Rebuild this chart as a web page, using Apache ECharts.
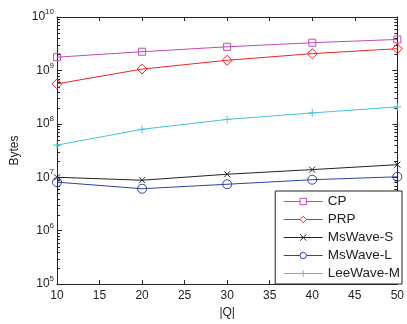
<!DOCTYPE html>
<html><head><meta charset="utf-8">
<script src="https://cdn.jsdelivr.net/npm/echarts@6/dist/echarts.min.js"></script>
<style>html,body{margin:0;padding:0;background:#fff}#c{width:407px;height:324px}</style>
</head><body><div id="c"></div>
<script>
const categories = [10, 20, 30, 40, 50];
const cpValues = [1.77e9, 2.24e9, 2.77e9, 3.3e9, 3.8e9];
const prpValues = [5.6e8, 1.06e9, 1.55e9, 2.06e9, 2.55e9];
const msWaveSValues = [1.0e7, 8.8e6, 1.14e7, 1.39e7, 1.72e7];
const msWaveLValues = [8.1e6, 6.1e6, 7.4e6, 9.0e6, 1.02e7];
const leeWaveMValues = [4.0e7, 7.9e7, 1.21e8, 1.6e8, 2.08e8];
const xTicks = [10, 15, 20, 25, 30, 35, 40, 45, 50];
const yDecades = [1e5, 1e6, 1e7, 1e8, 1e9];
const minorMultipliers = [2, 3, 4, 5, 6, 7, 8, 9];

const FONT = 'Liberation Sans';
const xSym = 'path://M0,0L10,10M10,0L0,10';
const plusSym = 'path://M5,0L5,10M0,5L10,5';

function pairs(vals){ return categories.map((c,i)=>[c, vals[i]]); }

function mkSeries(name, vals, color, symbol, size){
  return {
    name, type:'line', data: pairs(vals), symbol, symbolSize: size,
    lineStyle:{color, width:1},
    itemStyle:{color:'none', borderColor: color, borderWidth: 1},
    emphasis:{disabled:true}, z: 3
  };
}

const chart = echarts.init(document.getElementById('c'), null, {renderer:'canvas'});
const axisLine = {show:true, lineStyle:{color:'#222', width:1}};
chart.setOption({
  animation:false,
  textStyle:{fontFamily:FONT},
  grid:{left:57, right:8, top:17, bottom:38, containLabel:false},
  xAxis:[{
    type:'value', min:10, max:50, interval:5,
    axisLine, axisTick:{inside:true, length:4, lineStyle:{color:'#222'}},
    splitLine:{show:false},
    axisLabel:{color:'#222', fontSize:12, fontFamily:FONT, margin:6,
      formatter:v=> xTicks.includes(v) ? String(v) : ''},
    name:'|Q|', nameLocation:'middle', nameGap:22,
    nameTextStyle:{color:'#222', fontSize:12, fontFamily:FONT}
  },{
    type:'value', min:10, max:50, interval:5, position:'top',
    axisLine, axisTick:{inside:true, length:4, lineStyle:{color:'#222'}},
    axisLabel:{show:false}, splitLine:{show:false}
  }],
  yAxis:[{
    type:'log', logBase:10, min:1e5, max:1e10,
    axisLine, axisTick:{inside:true, length:5, lineStyle:{color:'#222'}},
    splitLine:{show:false},
    axisLabel:{margin:3, fontFamily:FONT,
      formatter:v=>{const e=Math.round(Math.log10(v)); return '{b|10}{s|'+e+'}';},
      rich:{b:{fontSize:12, color:'#222', fontFamily:FONT},
            s:{fontSize:8, color:'#222', fontFamily:FONT, padding:[0,0,10,0]}}},
    name:'Bytes', nameLocation:'middle', nameGap:36, nameRotate:90,
    nameTextStyle:{color:'#222', fontSize:12, fontFamily:FONT}
  },{
    type:'log', logBase:10, min:1e5, max:1e10, position:'right',
    axisLine, axisTick:{inside:true, length:5, lineStyle:{color:'#222'}},
    axisLabel:{show:false}, splitLine:{show:false}
  }],
  legend:{
    orient:'vertical', right:5, top:191, padding:[3,2,3,8], z:20,
    itemGap:3, itemWidth:39, itemHeight:8,
    backgroundColor:'#fff', borderColor:'#222', borderWidth:1, borderRadius:0,
    lineStyle:{width:1},
    itemStyle:{color:'#fff', borderWidth:1},
    textStyle:{fontSize:13.5, color:'#222', fontFamily:FONT, lineHeight:15},
    data:['CP','PRP','MsWave-S','MsWave-L','LeeWave-M']
  },
  series:[
    mkSeries('CP', cpValues, '#c04ab8', 'rect', 7),
    mkSeries('PRP', prpValues, '#f02424', 'diamond', 10),
    mkSeries('MsWave-S', msWaveSValues, '#222222', xSym, 6),
    mkSeries('MsWave-L', msWaveLValues, '#2a44a8', 'circle', 9),
    mkSeries('LeeWave-M', leeWaveMValues, '#44c4dc', plusSym, 8)
  ]
});

// MATLAB-style minor ticks (2..9 × each decade), positioned through the axis scale
const minorEls = [];
yDecades.forEach(d=>{
  minorMultipliers.forEach(k=>{
    const pl = chart.convertToPixel({seriesIndex:0}, [10, k*d]);
    const pr = chart.convertToPixel({seriesIndex:0}, [50, k*d]);
    if (!pl || !pr || !isFinite(pl[1])) return;
    const y = Math.round(pl[1]) + 0.5;
    minorEls.push({type:'line', silent:true, z:1, shape:{x1:pl[0], y1:y, x2:pl[0]+3, y2:y}, style:{stroke:'#222', lineWidth:1}});
    minorEls.push({type:'line', silent:true, z:1, shape:{x1:pr[0], y1:y, x2:pr[0]-3, y2:y}, style:{stroke:'#222', lineWidth:1}});
  });
});
chart.setOption({graphic: {elements: minorEls}});
</script></body></html>
